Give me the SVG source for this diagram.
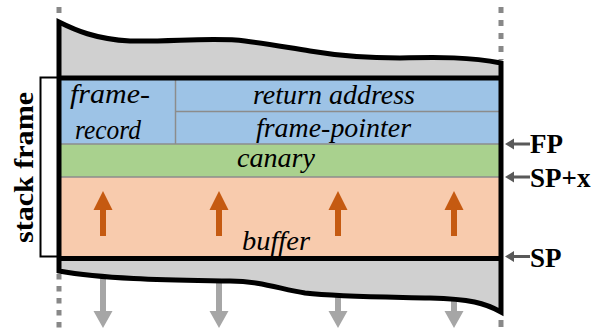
<svg xmlns="http://www.w3.org/2000/svg" width="596" height="334" viewBox="0 0 596 334">
<style>
.dot{stroke:#888;stroke-width:5;fill:none}
.div{stroke:#8c8c8c;stroke-width:1.5;fill:none}
.thick{stroke:#000;stroke-width:5;fill:none}
.it{font-family:"Liberation Serif","Times New Roman",serif;font-style:italic;font-size:27px;fill:#000}
.bd{font-family:"Liberation Serif","Times New Roman",serif;font-weight:bold;font-size:27px;fill:#000}
.up{fill:#c55a11}
.down{fill:#a6a6a6}
.ptr{fill:#595959}
</style>
<defs>
<path id="uparrow" d="M-3,236 L-3,210 L-9.5,210 L0,191 L9.5,210 L3,210 L3,236 Z"/>
<path id="downarrow" d="M-3,265 L-3,311 L-9.5,311 L0,328 L9.5,311 L3,311 L3,265 Z"/>
<path id="ptrarrow" d="M505,0 L514,-5.5 L514,-1.5 L530,-1.5 L530,1.5 L514,1.5 L514,5.5 Z"/>
</defs>
<rect width="596" height="334" fill="#fff"/>
<g id="guides">
<line class="dot" x1="59" y1="7" x2="59" y2="20" stroke-dasharray="6 7"/>
<line class="dot" x1="501" y1="7" x2="501" y2="60" stroke-dasharray="6 7"/>
<line class="dot" x1="59" y1="274" x2="59" y2="328" stroke-dasharray="5.5 6.5"/>
<line class="dot" x1="501" y1="320" x2="501" y2="327" stroke-dasharray="7 7"/>
</g>
<g id="growth-arrows">
<use href="#downarrow" class="down" x="103"/>
<use href="#downarrow" class="down" x="219"/>
<use href="#downarrow" class="down" x="338"/>
<use href="#downarrow" class="down" x="454"/>
</g>
<g id="stack">
<path d="M59,22 C75,30 95,39 130,41 C170,42 215,37 245,41 C270,44 290,48 310,51 C340,56 370,58 400,58 C440,57 470,57 501,63 L501,312 C485,303 470,299 430,298 C390,297 340,297 305,293 C280,289 260,281 230,281 C180,280 110,280 59,271 Z" fill="#d0d0d0"/>
</g>
<g id="frame-record">
<rect x="59" y="78" width="442" height="66" fill="#9dc3e6"/>
<line class="div" x1="175.5" y1="78" x2="175.5" y2="144"/>
<text class="it" x="70" y="103" textLength="80" lengthAdjust="spacingAndGlyphs">frame-</text>
<text class="it" x="75" y="139" textLength="66" lengthAdjust="spacingAndGlyphs">record</text>
</g>
<g id="return-address">
<line class="div" x1="175.5" y1="111.5" x2="501" y2="111.5"/>
<text class="it" x="334" y="104" text-anchor="middle" textLength="162" lengthAdjust="spacingAndGlyphs">return address</text>
</g>
<g id="frame-pointer">
<text class="it" x="333.5" y="137" text-anchor="middle" textLength="155" lengthAdjust="spacingAndGlyphs">frame-pointer</text>
</g>
<g id="canary">
<rect x="59" y="144" width="442" height="33" fill="#a9d18e"/>
<line class="div" x1="59" y1="144" x2="501" y2="144"/>
<text class="it" x="276" y="167" text-anchor="middle" textLength="78" lengthAdjust="spacingAndGlyphs">canary</text>
</g>
<g id="buffer">
<rect x="59" y="177" width="442" height="82" fill="#f8cbad"/>
<line class="div" x1="59" y1="177" x2="501" y2="177"/>
<use href="#uparrow" class="up" x="103"/>
<use href="#uparrow" class="up" x="219"/>
<use href="#uparrow" class="up" x="338"/>
<use href="#uparrow" class="up" x="454"/>
<text class="it" x="276" y="250" text-anchor="middle" textLength="68" lengthAdjust="spacingAndGlyphs">buffer</text>
</g>
<g id="outline">
<path class="thick" stroke-width="5.5" d="M59,22 C75,30 95,39 130,41 C170,42 215,37 245,41 C270,44 290,48 310,51 C340,56 370,58 400,58 C440,57 470,57 501,63 L501,312 C485,303 470,299 430,298 C390,297 340,297 305,293 C280,289 260,281 230,281 C180,280 110,280 59,271 Z"/>
<line class="thick" x1="59" y1="78" x2="501" y2="78"/>
<line class="thick" x1="59" y1="258.5" x2="501" y2="258.5"/>
</g>
<g id="stack-frame-label">
<path d="M57,77.5 L40.5,77.5 L40.5,256.5 L57,256.5" fill="none" stroke="#000" stroke-width="2"/>
<text class="bd" transform="translate(33,167.5) rotate(-90)" text-anchor="middle" textLength="151" lengthAdjust="spacingAndGlyphs">stack frame</text>
</g>
<g id="connectors">
<use href="#ptrarrow" class="ptr" y="144"/>
<use href="#ptrarrow" class="ptr" y="177"/>
<use href="#ptrarrow" class="ptr" y="256.5"/>
</g>
<g id="pointer-labels">
<text class="bd" x="530" y="153">FP</text>
<text class="bd" x="530" y="187">SP+x</text>
<text class="bd" x="530" y="267">SP</text>
</g>
</svg>
